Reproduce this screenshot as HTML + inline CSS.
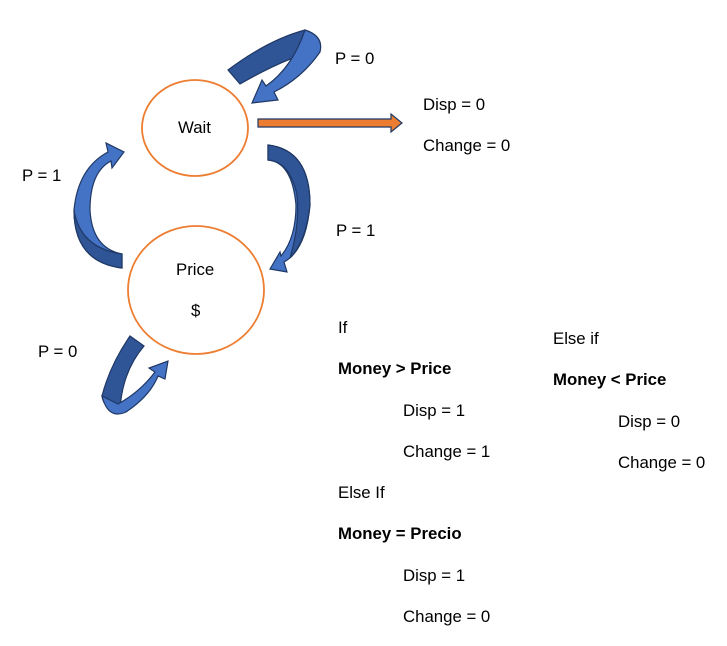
<!DOCTYPE html>
<html><head><style>
body{margin:0;background:#fff;width:727px;height:646px;overflow:hidden;position:relative;font-family:"Liberation Sans",sans-serif;font-size:16.8px;color:#000}
.t{position:absolute;white-space:nowrap;line-height:20px}
b{font-weight:bold}
</style></head><body>
<svg width="727" height="646" style="position:absolute;left:0;top:0">
<ellipse cx="195" cy="128" rx="53" ry="48" fill="none" stroke="#ED7D31" stroke-width="1.8"/>
<ellipse cx="196" cy="290" rx="68" ry="64" fill="none" stroke="#ED7D31" stroke-width="1.8"/>
<path d="M258 119 L391 119 L391 114 L402 123 L391 132 L391 127 L258 127 Z" fill="#ED7D31" stroke="#1F3864" stroke-width="1.2"/>
<!-- top loop -->
<path d="M228 70 Q268 40 305 30 Q320 36 318 50 Q285 58 240 84 Z" fill="#2F5597" stroke="#1F3864" stroke-width="1.2"/>
<path d="M305 30 Q324 36 320 52 Q302 78 274 92 L278 100 L252 103 L262 80 L266 86 Q292 68 305 30 Z" fill="#4472C4" stroke="#1F3864" stroke-width="1.2"/>
<!-- left arrow -->
<path d="M122 268 Q74 262 74 210 Q78 168 108 152 L106 143 L124 152 L112 168 L111 161 Q90 172 90 210 Q92 248 122 254 Z" fill="#4472C4" stroke="#1F3864" stroke-width="1.2"/>
<path d="M122 268 Q74 262 74 210 Q80 248 122 254 Z" fill="#2F5597" stroke="#1F3864" stroke-width="1.2"/>
<!-- right arrow -->
<path d="M268 145 Q310 150 310 205 Q306 250 284 262 L287 272 L270 269 L280 252 L281 256 Q296 238 296 205 Q292 162 268 160 Z" fill="#4472C4" stroke="#1F3864" stroke-width="1.2"/>
<path d="M268 145 Q310 150 310 205 Q306 242 290 258 Q300 225 297 195 Q290 162 268 160 Z" fill="#2F5597" stroke="#1F3864" stroke-width="1.2"/>
<!-- bottom loop -->
<path d="M130 336 L144 346 Q122 372 120 410 Q104 410 102 396 Q110 365 130 336 Z" fill="#2F5597" stroke="#1F3864" stroke-width="1.2"/>
<path d="M102 396 Q108 420 126 412 Q150 396 158 376 L165 379 L168 361 L149 368 L155 372 Q140 392 118 404 Z" fill="#4472C4" stroke="#1F3864" stroke-width="1.2"/>
</svg>
<div class="t" style="left:178px;top:118px">Wait</div>
<div class="t" style="left:176px;top:260px">Price</div>
<div class="t" style="left:191px;top:301px">$</div>
<div class="t" style="left:335px;top:49px">P = 0</div>
<div class="t" style="left:423px;top:95px">Disp = 0</div>
<div class="t" style="left:423px;top:136px">Change = 0</div>
<div class="t" style="left:22px;top:166px">P = 1</div>
<div class="t" style="left:336px;top:221px">P = 1</div>
<div class="t" style="left:38px;top:342px">P = 0</div>
<div class="t" style="left:338px;top:318px">If</div>
<div class="t" style="left:338px;top:359px"><b>Money &gt; Price</b></div>
<div class="t" style="left:403px;top:401px">Disp = 1</div>
<div class="t" style="left:403px;top:442px">Change = 1</div>
<div class="t" style="left:338px;top:483px">Else If</div>
<div class="t" style="left:338px;top:524px"><b>Money = Precio</b></div>
<div class="t" style="left:403px;top:566px">Disp = 1</div>
<div class="t" style="left:403px;top:607px">Change = 0</div>
<div class="t" style="left:553px;top:329px">Else if</div>
<div class="t" style="left:553px;top:370px"><b>Money &lt; Price</b></div>
<div class="t" style="left:618px;top:412px">Disp = 0</div>
<div class="t" style="left:618px;top:453px">Change = 0</div>
</body></html>
